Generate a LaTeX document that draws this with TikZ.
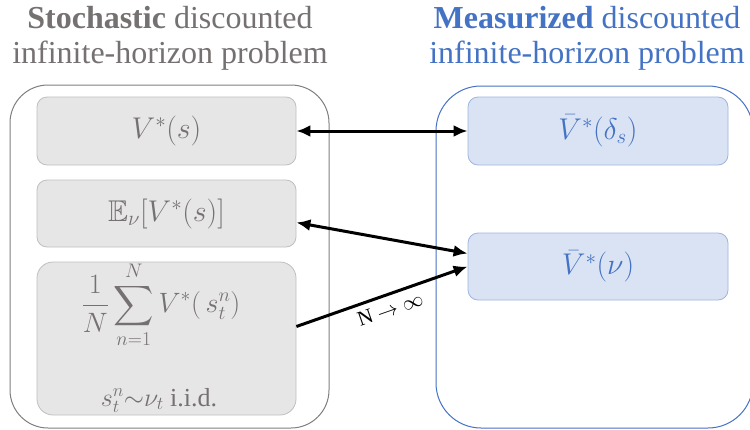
\RequirePackage{fix-cm}
\documentclass[tikz,border=0pt]{standalone}
\usepackage{xcolor}
\usepackage{amssymb}
\usepackage{fontspec}
\setmainfont{Liberation Serif}
\usepackage{tikz}
\usetikzlibrary{arrows.meta}

\definecolor{titlegray}{HTML}{767171}
\definecolor{boxgray}{HTML}{E7E6E6}
\definecolor{boxgrayline}{HTML}{BFBFBF}
\definecolor{framegray}{HTML}{7F7F7F}
\definecolor{measblue}{HTML}{4472C4}
\definecolor{boxblue}{HTML}{DAE3F3}
\definecolor{boxblueline}{HTML}{9DB5E0}

\tikzset{
  stochbox/.style={draw=boxgrayline, fill=boxgray, rounded corners=10pt, line width=0.8pt,
    minimum width=259pt, text=titlegray, font=\fontsize{30}{34}\selectfont},
  measbox/.style={draw=boxblueline, fill=boxblue, rounded corners=10pt, line width=0.8pt,
    minimum width=260pt, text=measblue, font=\fontsize{30}{34}\selectfont},
  link/.style={line width=3pt, {Latex[length=14pt,width=12pt]}-{Latex[length=14pt,width=12pt]}},
  limitlink/.style={line width=3pt, -{Latex[length=14pt,width=12pt]}},
}

\begin{document}
\begin{tikzpicture}[x=1pt, y=-1pt]
\useasboundingbox (0,0) rectangle (750,429);
\node[align=center, text=titlegray, font=\fontsize{32}{35}\selectfont] (stochTitle) at (170,38) {\textbf{Stochastic} discounted\\infinite-horizon problem};
\node[align=center, text=measblue, font=\fontsize{32}{35}\selectfont] (measTitle) at (587,38) {\textbf{Measurized} discounted\\infinite-horizon problem};
\draw[framegray, line width=1pt, rounded corners=38pt] (10,85) rectangle (329,428);
\draw[measblue, line width=1pt, rounded corners=45pt] (436,86) rectangle (753,428);
\node[stochbox, minimum height=68pt] (stochV) at (166.5,131) {$V^*(s)$};
\node[stochbox, minimum height=67pt] (stochE) at (166.5,213.5) {$\mathbb{E}_\nu[V^*(s)]$};
\node[stochbox, minimum height=153pt, rounded corners=16pt] (stochAvg) at (166.5,338.5) {};
\node[text=titlegray, font=\fontsize{28}{32}\selectfont] (avgSum) at (161,305) {$\displaystyle\frac{1}{N}\sum_{n=1}^{N}V^*(\,s_t^n)$};
\node[anchor=base, text=titlegray, font=\fontsize{26}{30}\selectfont] (avgIid) at (159,406) {$s_t^n{\sim}\nu_t$ i.i.d.};
\node[measbox, minimum height=68pt] (measDelta) at (598,131) {$\bar{V}^*(\delta_s)$};
\node[measbox, minimum height=67pt] (measNu) at (598,266.5) {$\bar{V}^*(\nu)$};
\draw[link] (stochV.east) -- (measDelta.west);
\draw[link] ([yshift=-9pt]stochE.east) -- ([yshift=13pt]measNu.west);
\draw[limitlink] ([yshift=12pt]stochAvg.east) -- node[sloped, below=3pt, pos=0.52, font=\fontsize{21}{24}\selectfont] {N $\to\infty$} (measNu.west);
\end{tikzpicture}
\end{document}
